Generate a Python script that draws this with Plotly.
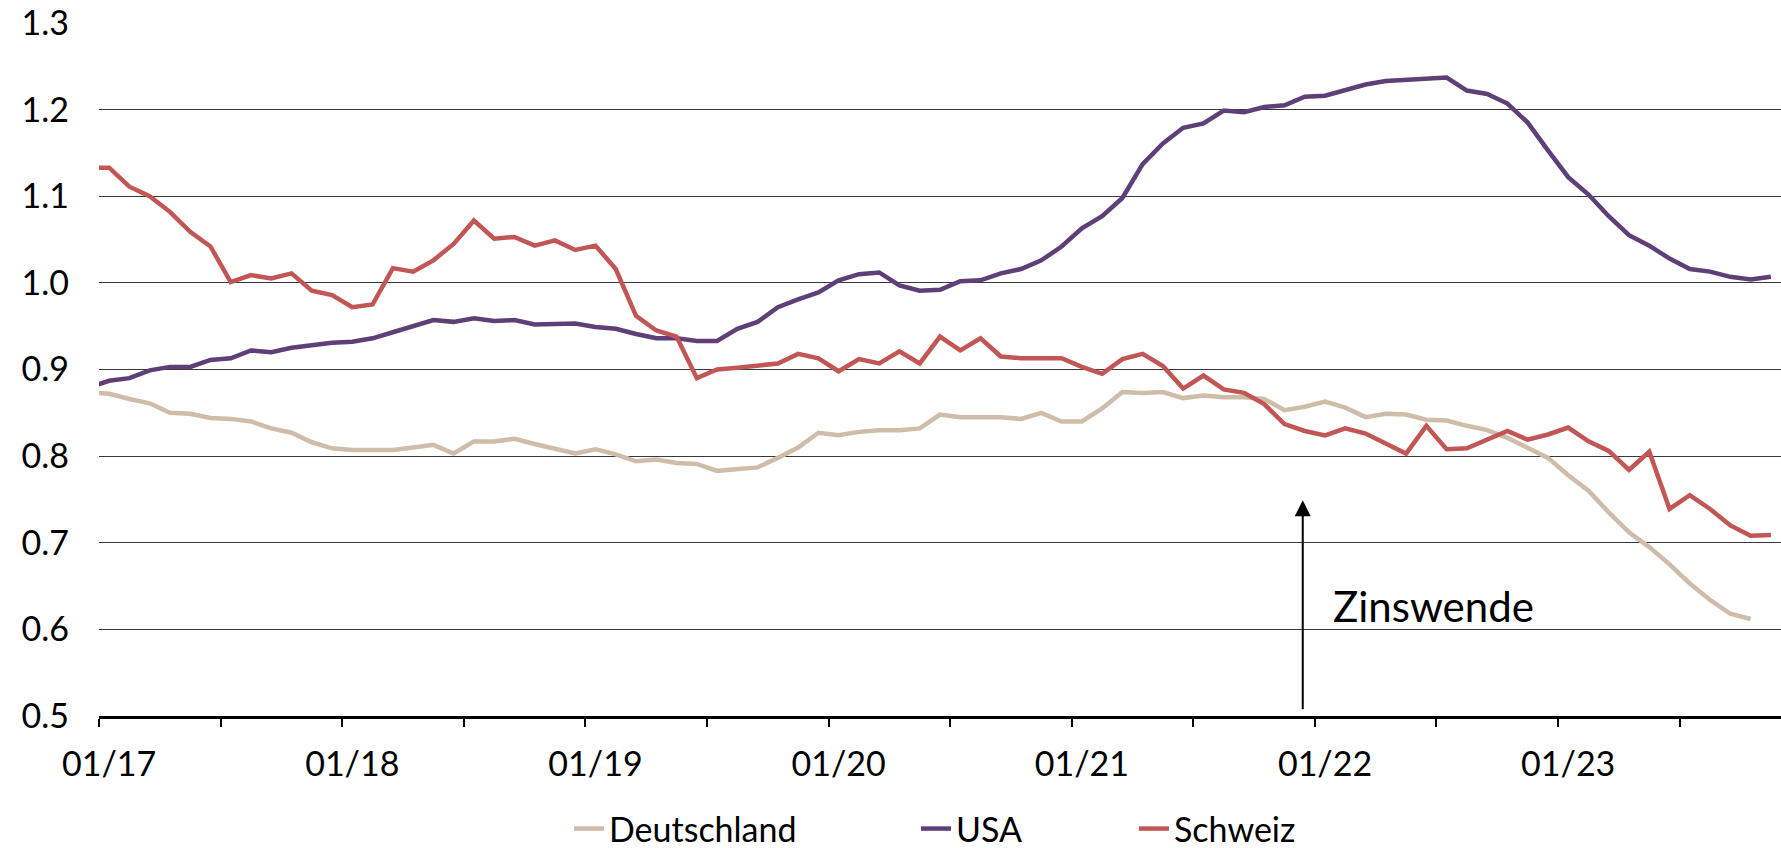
import plotly.graph_objects as go
import pandas as pd

# Monthly categories: Dec 2016 (clipped at the left edge) through Nov 2023
months = [p.strftime("%m/%y") for p in pd.period_range("2016-12", "2023-11", freq="M")]

deutschland = [
    0.874, 0.872, 0.866, 0.861, 0.850, 0.849, 0.844, 0.843, 0.840, 0.832, 0.827, 0.816, 0.809,
    0.807, 0.807, 0.807, 0.810, 0.813, 0.803, 0.817, 0.817, 0.820, 0.814, 0.808, 0.803,
    0.808, 0.802, 0.794, 0.796, 0.792, 0.791, 0.783, 0.785, 0.787, 0.798, 0.810, 0.827,
    0.824, 0.828, 0.830, 0.830, 0.832, 0.848, 0.845, 0.845, 0.845, 0.843, 0.850, 0.840,
    0.840, 0.855, 0.874, 0.873, 0.874, 0.867, 0.870, 0.868, 0.868, 0.866, 0.853, 0.857,
    0.863, 0.856, 0.845, 0.849, 0.848, 0.842, 0.841, 0.835, 0.830, 0.821, 0.810, 0.798,
    0.778, 0.760, 0.735, 0.712, 0.695, 0.675, 0.653, 0.634, 0.618, 0.612, None,
]

usa = [
    0.879, 0.887, 0.890, 0.899, 0.903, 0.903, 0.911, 0.913, 0.922, 0.920, 0.925, 0.928, 0.931,
    0.932, 0.936, 0.943, 0.950, 0.957, 0.955, 0.959, 0.956, 0.957, 0.952, 0.953, 0.953,
    0.949, 0.947, 0.941, 0.936, 0.936, 0.933, 0.933, 0.947, 0.955, 0.972, 0.981, 0.989,
    1.003, 1.010, 1.012, 0.997, 0.991, 0.992, 1.002, 1.003, 1.011, 1.016, 1.026, 1.042,
    1.063, 1.077, 1.098, 1.137, 1.161, 1.179, 1.184, 1.199, 1.197, 1.203, 1.205, 1.215,
    1.216, 1.222, 1.229, 1.233, 1.234, 1.236, 1.237, 1.222, 1.218, 1.207, 1.185, 1.153,
    1.122, 1.102, 1.077, 1.055, 1.043, 1.028, 1.016, 1.013, 1.007, 1.004, 1.007,
]

schweiz = [
    1.133, 1.133, 1.111, 1.100, 1.082, 1.059, 1.042, 1.001, 1.009, 1.005, 1.011, 0.991, 0.986,
    0.972, 0.975, 1.017, 1.013, 1.026, 1.045, 1.072, 1.051, 1.053, 1.043, 1.049, 1.038,
    1.043, 1.016, 0.962, 0.945, 0.938, 0.890, 0.900, 0.902, 0.904, 0.907, 0.918, 0.913,
    0.898, 0.912, 0.907, 0.921, 0.907, 0.938, 0.922, 0.936, 0.915, 0.913, 0.913, 0.913,
    0.903, 0.895, 0.912, 0.918, 0.904, 0.878, 0.893, 0.877, 0.873, 0.860, 0.837, 0.829,
    0.824, 0.832, 0.826, 0.815, 0.803, 0.835, 0.808, 0.809, 0.819, 0.829, 0.819, 0.825,
    0.833, 0.817, 0.806, 0.784, 0.805, 0.739, 0.755, 0.739, 0.720, 0.708, 0.709,
]

series_names = ["Deutschland", "USA", "Schweiz"]
series_colors = ["#CFBDA9", "#5E3F78", "#C15654"]
tick_labels = ["01/17", "01/18", "01/19", "01/20", "01/21", "01/22", "01/23"]
annotation_text = "Zinswende"
annotation_month = "12/21"

# category positions (Jan 2017 = 0)
first = months.index("01/17")
x_pos = [i - first for i in range(len(months))]
label_pos = [months.index(t) - first for t in tick_labels]
n_shown = len(months) - first
boundary_pos = [p - 0.5 for p in range(0, n_shown, 6)]

fig = go.Figure()
legend_widths = [302, 173, None]
for name, vals, col, lw in zip(series_names, [deutschland, usa, schweiz], series_colors, legend_widths):
    kw = {}
    if lw:
        kw["legendwidth"] = lw
    fig.add_trace(go.Scatter(
        x=x_pos, y=vals, mode="lines", name=name,
        line=dict(color=col, width=4.5), connectgaps=False, **kw))

arrow_x = months.index(annotation_month) - first - 0.1
fig.add_annotation(
    x=arrow_x, y=0.749, ax=arrow_x, ay=0.506, xref="x", yref="y", axref="x", ayref="y",
    text="", showarrow=True, arrowhead=2, arrowsize=1.6, arrowwidth=2, arrowcolor="black")
fig.add_annotation(
    x=arrow_x + 1.4, y=0.627, xref="x", yref="y", text=annotation_text, showarrow=False,
    xanchor="left", yanchor="middle", font=dict(family="Lato", size=42, color="black"))

fig.update_layout(
    width=1781, height=848,
    margin=dict(l=99, r=0, t=23, b=132, autoexpand=False),
    plot_bgcolor="white", paper_bgcolor="white",
    font=dict(family="Lato", size=34, color="black"),
    showlegend=True,
    legend=dict(orientation="h", x=0.2794, xanchor="left", y=-0.163, yanchor="middle",
                font=dict(family="Lato", size=34, color="black"), itemwidth=30,
                bgcolor="rgba(0,0,0,0)"),
    xaxis=dict(range=[-0.5, n_shown - 0.5], showgrid=False, zeroline=False,
               showline=True, linecolor="black", linewidth=2.5, automargin=False,
               tickmode="array", tickvals=label_pos, ticktext=tick_labels,
               ticks="", ticklabelstandoff=16,
               minor=dict(tickmode="array", tickvals=boundary_pos, ticks="outside",
                          ticklen=8, tickwidth=2, tickcolor="black", showgrid=False)),
    yaxis=dict(range=[0.5, 1.3], tick0=0.5, dtick=0.1, tickformat=".1f", automargin=False,
               showgrid=True, gridcolor="#383838", gridwidth=1.2,
               showline=False, zeroline=False, ticks="", ticklabelstandoff=29),
)

fig.write_html("out.html", config={"displayModeBar": False},
               post_script="document.body.style.margin='0';document.body.style.padding='0';")
